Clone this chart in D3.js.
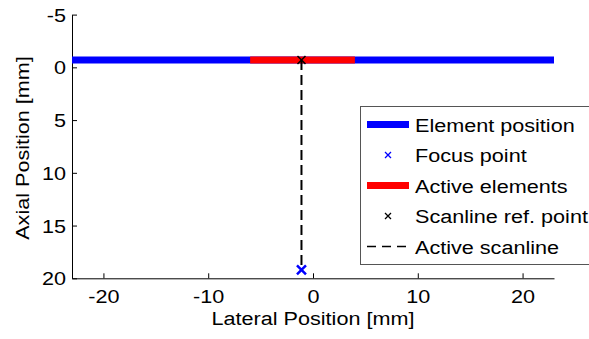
<!DOCTYPE html>
<html>
<head>
<meta charset="utf-8">
<script src="https://cdn.jsdelivr.net/npm/d3@7"></script>
<style>
  body { margin: 0; background: #fff; }
  svg { display: block; font-family: "Liberation Sans", Arial, sans-serif; }
</style>
</head>
<body>
<script>
// values (mm)
const elementX = [-23, 23];          // full transducer extent
const elementZ = [-0.7, -0.7];
const activeX = [-6, 4];             // active aperture
const activeZ = [-0.7, -0.7];
const focusPoint = [-1.1, 19.2];
const refPoint = [-1.1, -0.7];
const xTicks = [-20, -10, 0, 10, 20];
const yTicks = [-5, 0, 5, 10, 15, 20];
const legendLabels = ["Element position", "Focus point", "Active elements", "Scanline ref. point", "Active scanline"];

const width = 589, height = 339;
const stretch = 1.2; // the original glyphs are drawn wide

const svg = d3.select("body").append("svg")
    .attr("width", width)
    .attr("height", height);

const x = d3.scaleLinear().domain([-23, 23]).range([72, 554]);
const y = d3.scaleLinear().domain([-5, 20]).range([14.6, 278.3]);

// axes, ticks point inward, plain hyphen minus signs
const fmt = d => String(d);
const xAxis = svg.append("g")
    .attr("transform", `translate(0,${y(20)})`)
    .call(d3.axisBottom(x).tickValues(xTicks).tickFormat(fmt).tickSizeInner(-5).tickSizeOuter(0));
xAxis.selectAll("text").attr("y", 24.7).attr("dy", 0);

const yAxis = svg.append("g")
    .attr("transform", `translate(${x(-23)},0)`)
    .call(d3.axisLeft(y).tickValues(yTicks).tickFormat(fmt).tickSizeInner(-5).tickSizeOuter(0));
yAxis.selectAll("text").attr("x", -6).attr("dy", "0.36em");

svg.selectAll(".tick text")
    .attr("font-size", 18)
    .attr("font-family", "Liberation Sans, Arial, sans-serif")
    .attr("fill", "#000");
svg.selectAll(".domain, .tick line").attr("stroke", "#000").attr("stroke-width", 1);

svg.append("text")
    .attr("x", 313).attr("y", 325)
    .attr("text-anchor", "middle")
    .attr("font-size", 18)
    .text("Lateral Position [mm]");

svg.append("text")
    .attr("transform", `translate(29,148) rotate(-90)`)
    .attr("text-anchor", "middle")
    .attr("font-size", 18)
    .text("Axial Position [mm]");

const line = d3.line().x(d => x(d[0])).y(d => y(d[1]));

svg.append("path")
    .attr("d", line(d3.zip(elementX, elementZ)))
    .attr("stroke", "#0000ff").attr("stroke-width", 7).attr("fill", "none");

svg.append("path")
    .attr("d", line(d3.zip(activeX, activeZ)))
    .attr("stroke", "#ff0000").attr("stroke-width", 7).attr("fill", "none");

svg.append("path")
    .attr("d", line([refPoint, focusPoint]))
    .attr("stroke", "#000").attr("stroke-width", 2)
    .attr("stroke-dasharray", "10,5").attr("fill", "none");

function cross(g, cx, cy, r, color, w) {
    g.append("path")
        .attr("d", `M${cx - r},${cy - r}L${cx + r},${cy + r}M${cx - r},${cy + r}L${cx + r},${cy - r}`)
        .attr("stroke", color).attr("stroke-width", w).attr("fill", "none");
}

cross(svg, x(refPoint[0]), y(refPoint[1]), 4, "#000", 1.5);
cross(svg, x(focusPoint[0]), y(focusPoint[1]), 4.5, "#0000ff", 2.5);

// legend
const legend = svg.append("g");
legend.append("rect")
    .attr("x", 360.5).attr("y", 106.5)
    .attr("width", 260).attr("height", 158)
    .attr("fill", "#fff").attr("stroke", "#555").attr("stroke-width", 1);

const rowY = d3.scaleLinear().domain([0, 4]).range([131.5, 253.5]);
legendLabels.forEach((label, i) => {
    const by = rowY(i), cy = by - 7;
    if (i === 0 || i === 2) {
        legend.append("line")
            .attr("x1", 367).attr("x2", 409).attr("y1", cy).attr("y2", cy)
            .attr("stroke", i === 0 ? "#0000ff" : "#ff0000").attr("stroke-width", 7);
    } else if (i === 4) {
        legend.append("line")
            .attr("x1", 367).attr("x2", 410).attr("y1", cy).attr("y2", cy)
            .attr("stroke", "#000").attr("stroke-width", 1.5)
            .attr("stroke-dasharray", "9,6");
    } else {
        cross(legend, 388, cy, 3, i === 1 ? "#0000ff" : "#000", 1.3);
    }
    legend.append("text")
        .attr("x", 415).attr("y", by)
        .attr("font-size", 18)
        .text(label);
});

// widen every text like the original rendering
svg.selectAll("text").each(function () {
    const len = this.getComputedTextLength();
    d3.select(this)
        .attr("textLength", len * stretch)
        .attr("lengthAdjust", "spacingAndGlyphs");
});
</script>
</body>
</html>
